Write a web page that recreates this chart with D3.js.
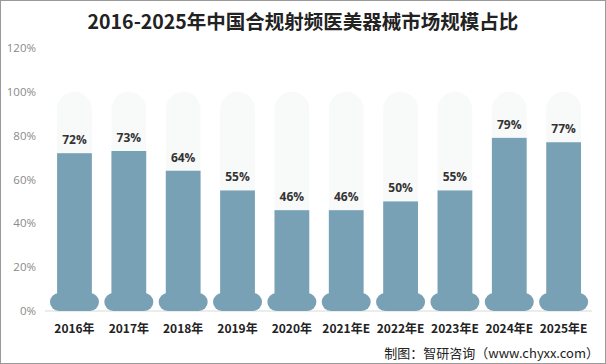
<!DOCTYPE html>
<html><head><meta charset="utf-8">
<script src="https://cdn.jsdelivr.net/npm/d3@7"></script>
<style>body{margin:0;background:#fff}svg{display:block}</style>
</head><body><svg id="c" width="606" height="364"></svg>
<script>
const categories = ["2016年","2017年","2018年","2019年","2020年","2021年E","2022年E","2023年E","2024年E","2025年E"];
const values = [72,73,64,55,46,46,50,55,79,77];
const yTicks = [0,20,40,60,80,100,120];
const title = "2016-2025年中国合规射频医美器械市场规模占比";
const source = "制图：智研咨询（www.chyxx.com）";

const svg = d3.select("#c");
const W = 606, H = 364;
const x = d3.scaleBand().domain(categories).range([47.3, 590.8]).paddingInner(0.36).paddingOuter(0.18);
const y = d3.scaleLinear().domain([0,120]).range([311,48]);
const bw = x.bandwidth();
const barColor = "#78a1b5";

svg.append("rect").attr("x",0.5).attr("y",0.5).attr("width",W-1).attr("height",H-1).attr("fill","#fff").attr("stroke","#9a9a9a");

svg.append("text").attr("x",303).attr("y",29).attr("text-anchor","middle")
  .attr("font-family","'Noto Sans CJK SC',sans-serif").attr("font-weight","bold").attr("font-size",19.5).attr("fill","#222").text(title);

// y axis labels
svg.append("g").selectAll("text").data(yTicks).join("text")
  .attr("x",36).attr("y",d=>y(d)+4).attr("text-anchor","end")
  .attr("font-family","'Open Sans','DejaVu Sans',sans-serif").attr("font-size",11.5).attr("fill","#8a8a8a").text(d=>d+"%");

// baseline
svg.append("line").attr("x1",45).attr("x2",592).attr("y1",y(0)).attr("y2",y(0)).attr("stroke","#d9d9d9");

// background capsules
svg.append("g").selectAll("path").data(categories).join("path")
  .attr("fill","#f8f9f9")
  .attr("d",d=>{const x0=x(d), r=bw/2, top=y(100), bot=y(0);
    return `M${x0},${bot}V${top+r}A${r},${r} 0 0 1 ${x0+bw},${top+r}V${bot}Z`;});

// bottom blobs
const blobW = 49, blobH = 18;
svg.append("g").selectAll("rect").data(categories).join("rect")
  .attr("x",d=>x(d)+bw/2-blobW/2).attr("y",y(0)-blobH).attr("width",blobW).attr("height",blobH)
  .attr("rx",blobH/2).attr("fill",barColor);

// bars
svg.append("g").selectAll("rect").data(values).join("rect")
  .attr("x",(d,i)=>x(categories[i])).attr("y",d=>y(d)).attr("width",bw)
  .attr("height",d=>y(0)-blobH/2-y(d)).attr("fill",barColor);

// value labels
svg.append("g").selectAll("text").data(values).join("text")
  .attr("x",(d,i)=>x(categories[i])+bw/2).attr("y",d=>y(d)-9).attr("text-anchor","middle")
  .attr("font-family","'Open Sans','DejaVu Sans',sans-serif").attr("font-weight","bold").attr("font-size",12).attr("fill","#333").text(d=>d+"%");

// x labels
svg.append("g").selectAll("text").data(categories).join("text")
  .attr("x",d=>x(d)+bw/2).attr("y",333).attr("text-anchor","middle")
  .attr("font-family","'Noto Sans CJK SC',sans-serif").attr("font-weight","bold").attr("font-size",12).attr("fill","#222").text(d=>d);

svg.append("text").attr("x",599).attr("y",358).attr("text-anchor","end")
  .attr("font-family","'Noto Sans CJK SC',sans-serif").attr("font-size",13).attr("fill","#222")
  .text(source);
</script></body></html>
